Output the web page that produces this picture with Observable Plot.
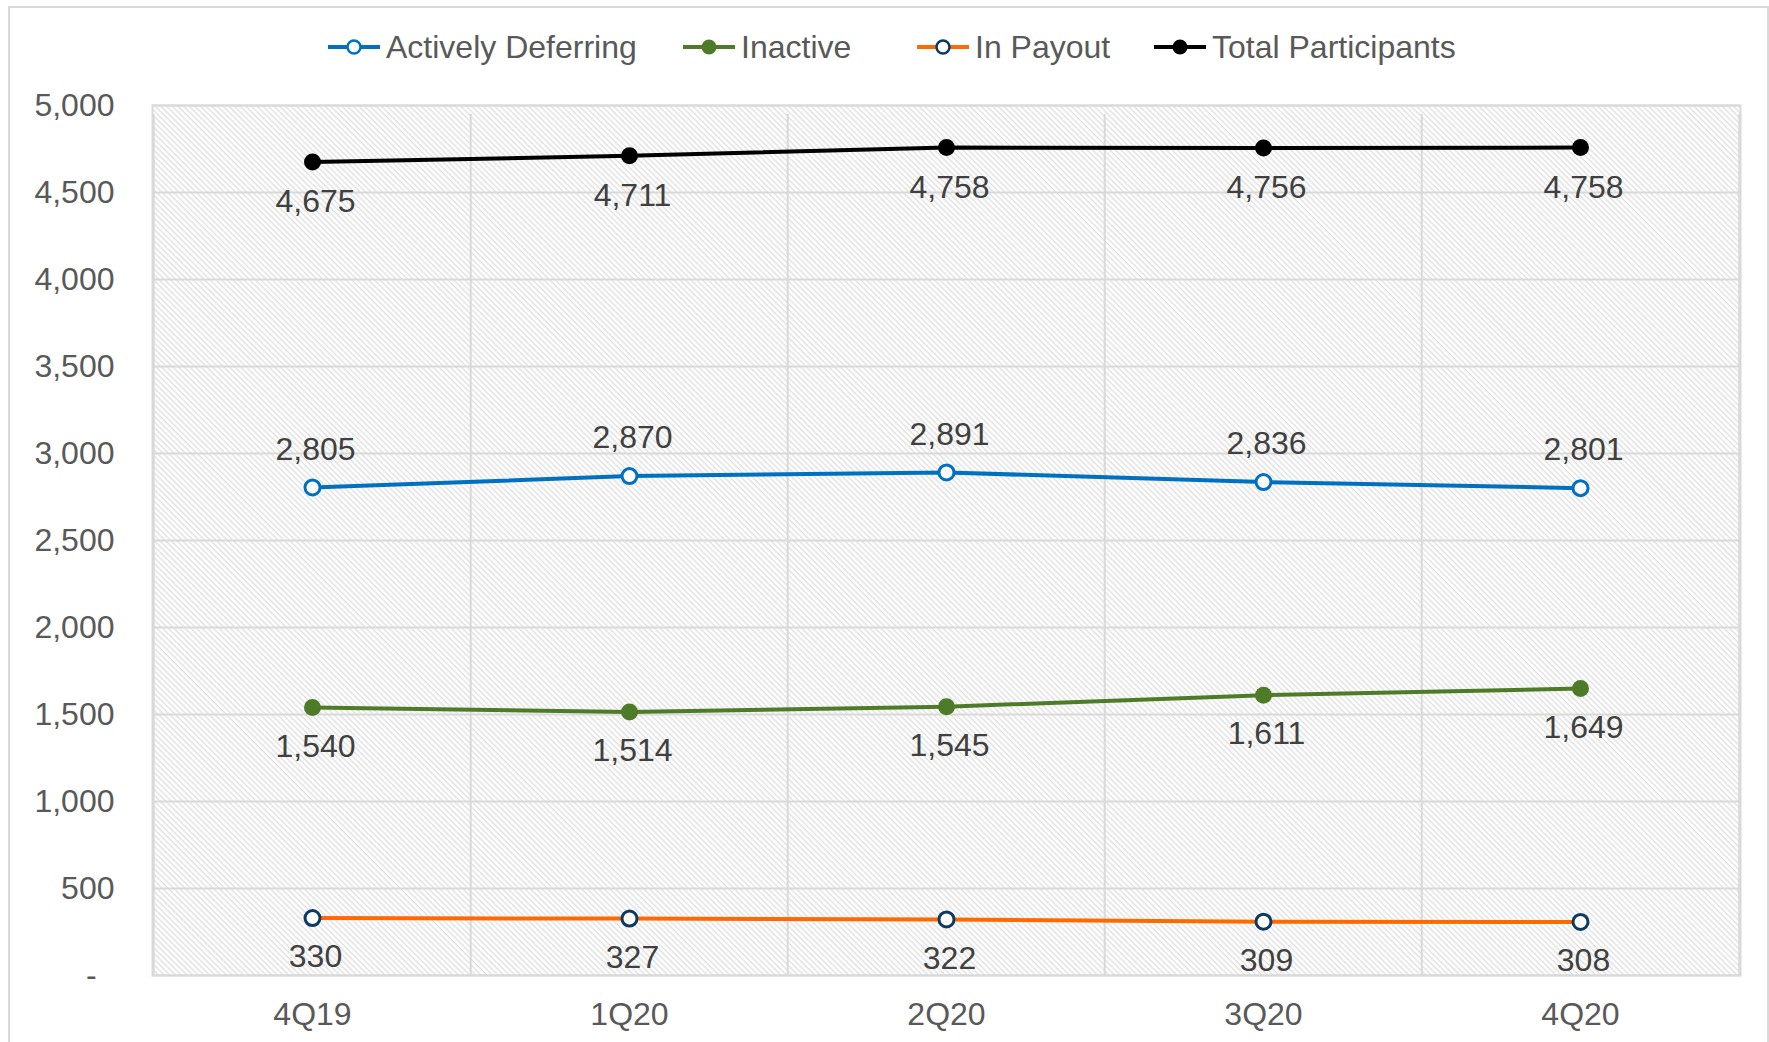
<!DOCTYPE html>
<html><head><meta charset="utf-8">
<script src="https://cdn.jsdelivr.net/npm/d3@7"></script>
<script src="https://cdn.jsdelivr.net/npm/@observablehq/plot@0.6"></script>
<style>
html,body{margin:0;padding:0;background:#fff;}
#wrap{position:relative;width:1769px;height:1042px;overflow:hidden;font-family:"Liberation Sans",Arial,sans-serif;background:#fff;}
#border{position:absolute;left:8px;top:6px;width:1761px;height:1100px;border:2px solid #d9d9d9;box-sizing:border-box;pointer-events:none;}
#legend{position:relative;height:80px;}
.item{position:absolute;top:27px;height:40px;display:flex;align-items:center;font-size:32px;color:#595959;white-space:nowrap;}
.item svg{margin-right:5px;}
#chart svg{display:block;}
</style></head><body>
<div id="wrap"><div id="legend"></div><div id="chart"></div><div id="border"></div></div>
<script>
// ---- data ----
const quarters = ["4Q19", "1Q20", "2Q20", "3Q20", "4Q20"];
const activelyDeferring = [2805, 2870, 2891, 2836, 2801];
const inactive = [1540, 1514, 1545, 1611, 1649];
const inPayout = [330, 327, 322, 309, 308];
const totalParticipants = [4675, 4711, 4758, 4756, 4758];
const yTicks = [0, 500, 1000, 1500, 2000, 2500, 3000, 3500, 4000, 4500, 5000];
const seriesNames = ["Actively Deferring", "Inactive", "In Payout", "Total Participants"];

// ---- styles ----
const series = [
  {name: seriesNames[0], values: activelyDeferring, line: "#0070c0", mStroke: "#0070c0", mFill: "#fff", dy: -38},
  {name: seriesNames[1], values: inactive, line: "#4e7b27", mStroke: "#4e7b27", mFill: "#4e7b27", dy: 39},
  {name: seriesNames[2], values: inPayout, line: "#ff6a00", mStroke: "#0c3a63", mFill: "#fff", dy: 39},
  {name: seriesNames[3], values: totalParticipants, line: "#000000", mStroke: "#000000", mFill: "#000000", dy: 40}
];
const legendLeft = [327, 682, 916, 1153];

// legend
const legend = document.getElementById("legend");
series.forEach((s, i) => {
  const div = document.createElement("div");
  div.className = "item";
  div.style.left = legendLeft[i] + "px";
  div.innerHTML = `<svg width="54" height="20"><line x1="1" y1="10" x2="53" y2="10" stroke="${s.line}" stroke-width="4"/><circle cx="27" cy="10" r="${s.mFill === '#fff' ? 6.5 : 7.5}" fill="${s.mFill}" stroke="${s.mStroke}" stroke-width="${s.mFill === '#fff' ? 2.5 : 0}"/></svg><span>${s.name}</span>`;
  legend.appendChild(div);
});

const W = 1769, H = 962, ML = 152, MR = 29, MT = 25, MB = 67;
const step = (W - ML - MR) / quarters.length;

const marks = [
  Plot.frame({fill: "url(#hatch)", stroke: null}),
  Plot.gridY({ticks: yTicks, stroke: "#d9d9d9", strokeOpacity: 1, strokeWidth: 2}),
  Plot.ruleX(quarters, {x: d => d, dx: -step / 2, y1: 0, y2: 5000, stroke: "#d9d9d9", strokeWidth: 2, insetBottom: -9}),
  Plot.ruleX(quarters.slice(-1), {x: d => d, dx: step / 2, y1: 0, y2: 5000, stroke: "#d9d9d9", strokeWidth: 2, insetBottom: -9}),
  Plot.frame({stroke: "#d9d9d9", strokeWidth: 2}),
  Plot.axisY({ticks: yTicks, tickSize: 0, tickPadding: 38, label: null, color: "#595959",
    tickFormat: d => d === 0 ? "-\u00a0\u00a0" : d3.format(",")(d)}),
  Plot.axisX({tickSize: 0, tickPadding: 27, label: null, color: "#595959"})
];
for (const s of series) {
  const data = quarters.map((q, i) => ({q, v: s.values[i]}));
  marks.push(Plot.line(data, {x: "q", y: "v", stroke: s.line, strokeWidth: 4}));
  marks.push(Plot.dot(data, {x: "q", y: "v", r: s.mFill === "#fff" ? 7.5 : 8.5, fill: s.mFill, stroke: s.mStroke, strokeWidth: s.mFill === "#fff" ? 3 : 0}));
  marks.push(Plot.text(data, {x: "q", y: "v", text: d => d3.format(",")(d.v), dy: s.dy, dx: 3, fill: "#404040"}));
}

const svg = Plot.plot({
  width: W, height: H,
  marginLeft: ML, marginRight: MR, marginTop: MT, marginBottom: MB,
  style: {fontSize: "32px", fontFamily: '"Liberation Sans", Arial, sans-serif', background: "transparent", overflow: "visible"},
  x: {type: "point", domain: quarters, padding: 0.5},
  y: {domain: [0, 5000]},
  marks
});
const defs = document.createElementNS("http://www.w3.org/2000/svg", "defs");
defs.innerHTML = `<pattern id="hatch" patternUnits="userSpaceOnUse" width="4" height="4" patternTransform="rotate(45)"><rect width="4" height="4" fill="#ffffff"/><rect width="4" height="1.4" fill="#e0e0e0"/></pattern>`;
svg.insertBefore(defs, svg.firstChild);
document.getElementById("chart").appendChild(svg);
</script>
</body></html>
